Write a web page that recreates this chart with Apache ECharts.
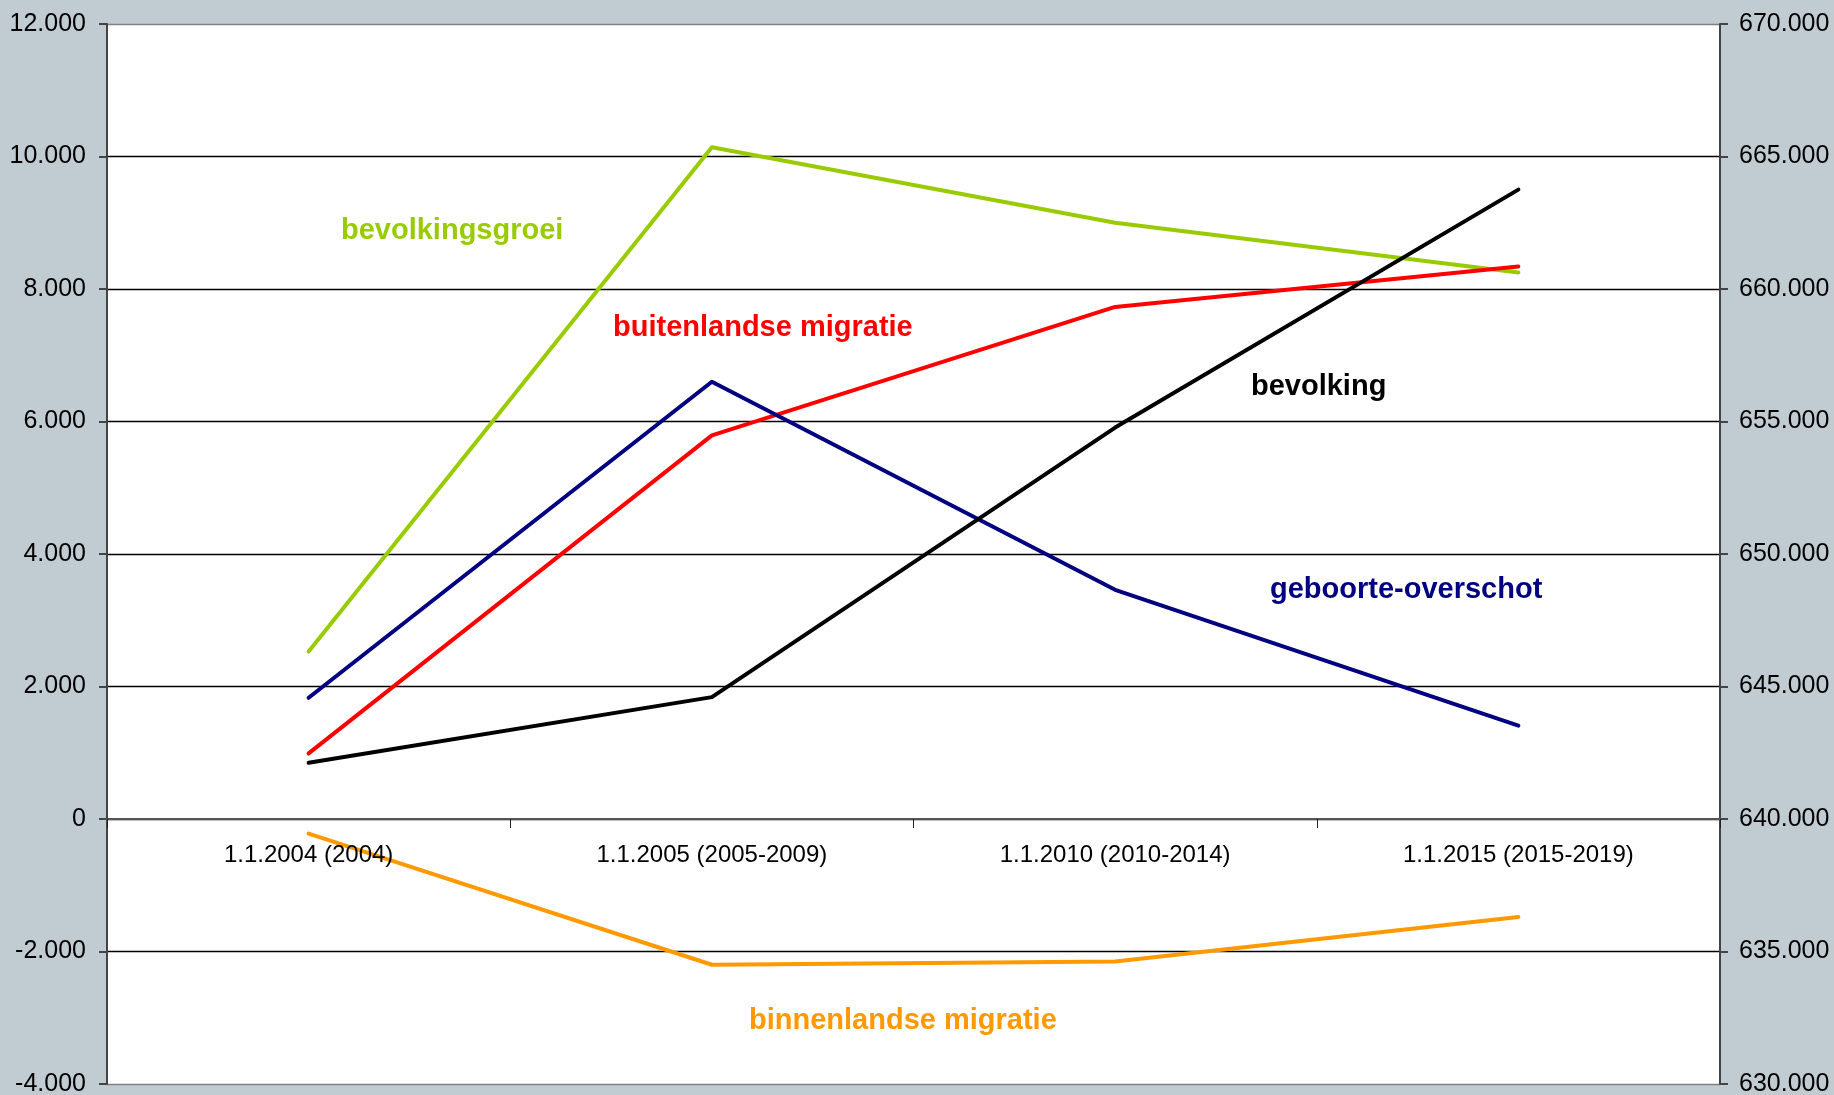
<!DOCTYPE html>
<html>
<head>
<meta charset="utf-8">
<script src="https://cdn.jsdelivr.net/npm/echarts@6/dist/echarts.min.js"></script>
<style>
  html, body { margin: 0; padding: 0; background: #C1CCD2; }
  #chart { width: 1834px; height: 1095px; }
</style>
</head>
<body>
<div id="chart"></div>
<script>
// categories and values
const categories = ['1.1.2004 (2004)', '1.1.2005 (2005-2009)', '1.1.2010 (2010-2014)', '1.1.2015 (2015-2019)'];
const bevolkingsgroei = [2530, 10140, 9000, 8250];
const buitenlandseMigratie = [990, 5790, 7730, 8340];
const geboorteOverschot = [1830, 6600, 3460, 1410];
const binnenlandseMigratie = [-220, -2200, -2150, -1480];
const bevolking = [642120, 644600, 654770, 663750];

const font = "'Liberation Sans', Arial, Helvetica, sans-serif";

const fmt = (v) => {
    const s = Math.abs(v).toString().replace(/\B(?=(\d{3})+(?!\d))/g, '.');
    return (v < 0 ? '-' : '') + s;
};

const chart = echarts.init(document.getElementById('chart'));

const lineSeries = (name, values, color, yIdx) => ({
    name: name,
    type: 'line',
    xAxisIndex: 0,
    yAxisIndex: yIdx,
    data: values,
    showSymbol: false,
    symbol: 'none',
    lineStyle: { color: color, width: 4, cap: 'round', join: 'round' },
    itemStyle: { color: color },
    z: 5,
});

const labelText = (text, x, y, color) => ({
    type: 'text',
    x: x,
    y: y,
    z: 100,
    style: {
        text: text,
        fill: color,
        font: 'bold 29px ' + font,
        verticalAlign: 'middle',
    },
});

const gridColors = ['#808080', '#000', '#000', '#000', '#000', '#000', '#000', '#000', '#808080'];

// plot area: 12.000 at top, -4.000 at bottom; the category axis sits on the 0 line
const gridTop = 24;
const gridBottom = 11;
const zeroFromBottom = gridBottom + (1095 - gridTop - gridBottom) * 4000 / 16000;

const option = {
    backgroundColor: '#C1CCD2',
    animation: false,
    textStyle: { fontFamily: font },
    grid: [
        {
            left: 107,
            right: 114,
            top: gridTop,
            bottom: gridBottom,
            show: true,
            backgroundColor: '#fff',
            borderWidth: 0,
            outerBoundsMode: 'none',
        },
        {
            left: 107,
            right: 114,
            top: gridTop,
            bottom: zeroFromBottom,
            show: false,
            outerBoundsMode: 'none',
        },
    ],
    xAxis: [
        {
            type: 'category',
            gridIndex: 0,
            data: categories,
            boundaryGap: true,
            axisLine: { show: false },
            axisTick: { show: false },
            axisLabel: { show: false },
            splitLine: { show: false },
        },
        {
            type: 'category',
            gridIndex: 1,
            data: categories,
            boundaryGap: true,
            position: 'bottom',
            axisLine: { onZero: false, lineStyle: { color: '#555', width: 2 } },
            axisTick: { show: true, length: 9, lineStyle: { color: '#222', width: 1 } },
            axisLabel: {
                color: '#000',
                fontSize: 24,
                fontFamily: font,
                margin: 24,
            },
            splitLine: { show: false },
            z: 10,
        },
    ],
    yAxis: [
        {
            type: 'value',
            gridIndex: 0,
            min: -4000,
            max: 12000,
            interval: 2000,
            position: 'left',
            axisLine: { show: true, lineStyle: { color: '#444', width: 2 } },
            axisTick: { show: true, length: 8, lineStyle: { color: '#444', width: 2 } },
            axisLabel: {
                color: '#000',
                fontSize: 25,
                fontFamily: font,
                margin: 21,
                formatter: fmt,
            },
            splitLine: { show: true, lineStyle: { color: gridColors, width: 1.3 } },
        },
        {
            type: 'value',
            gridIndex: 0,
            min: 630000,
            max: 670000,
            interval: 5000,
            position: 'right',
            axisLine: { show: true, lineStyle: { color: '#444', width: 2 } },
            axisTick: { show: true, length: 8, lineStyle: { color: '#444', width: 2 } },
            axisLabel: {
                color: '#000',
                fontSize: 25,
                fontFamily: font,
                margin: 19,
                formatter: fmt,
            },
            splitLine: { show: false },
        },
        {
            type: 'value',
            gridIndex: 1,
            min: 0,
            max: 12000,
            show: false,
        },
    ],
    series: [
        lineSeries('bevolkingsgroei', bevolkingsgroei, '#99CC00', 0),
        lineSeries('buitenlandse migratie', buitenlandseMigratie, '#FF0000', 0),
        lineSeries('geboorte-overschot', geboorteOverschot, '#000080', 0),
        lineSeries('binnenlandse migratie', binnenlandseMigratie, '#FF9900', 0),
        lineSeries('bevolking', bevolking, '#000000', 1),
    ],
    graphic: [
        labelText('bevolkingsgroei', 341, 231, '#99CC00'),
        labelText('buitenlandse migratie', 613, 328, '#FF0000'),
        labelText('bevolking', 1251, 387, '#000000'),
        labelText('geboorte-overschot', 1270, 590, '#000080'),
        labelText('binnenlandse migratie', 749, 1021, '#FF9900'),
    ],
};

chart.setOption(option);
</script>
</body>
</html>
